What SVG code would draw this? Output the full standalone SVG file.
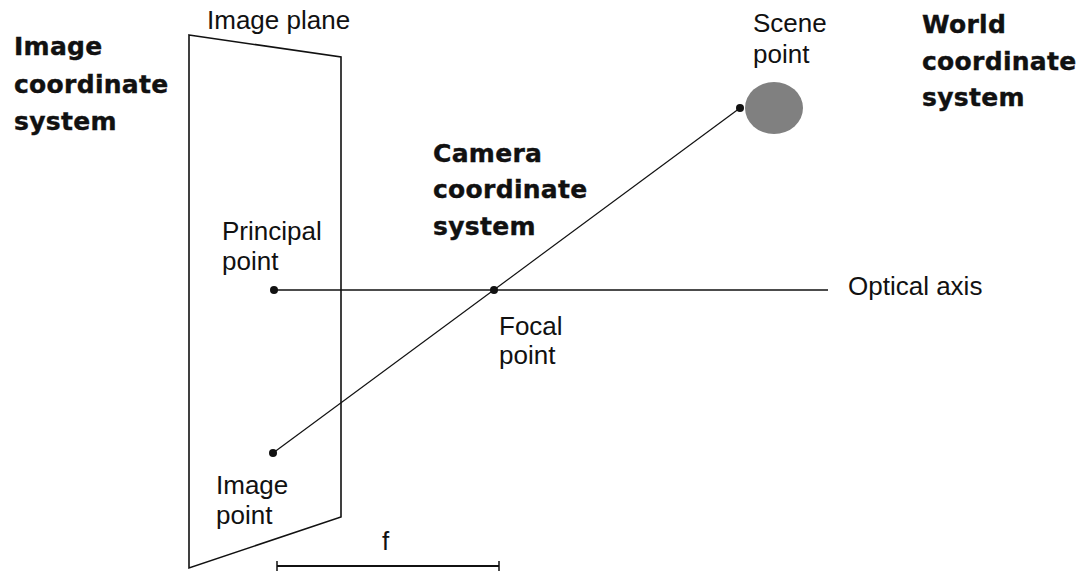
<svg xmlns="http://www.w3.org/2000/svg" width="1081" height="572" viewBox="0 0 1081 572">
<style>
.t{font-family:"Liberation Sans",Arial,sans-serif;font-size:26px;fill:#111}
.b{font-family:"DejaVu Sans",sans-serif;font-weight:bold;font-size:25px;letter-spacing:0.3px;fill:#111;stroke:#111;stroke-width:0.4px}
.ln{stroke:#111;fill:none}
.dot{fill:#111}
</style>
<rect width="1081" height="572" fill="#fff"/>
<g id="image-plane">
<polygon class="ln" stroke-width="1.6" points="189,35 341,57 341,517 189,568"/>
<text class="t" x="207" y="29">Image plane</text>
</g>
<g id="connectors">
<line class="ln" stroke-width="1.6" x1="274" y1="290" x2="828" y2="290"/>
<line class="ln" stroke-width="1.2" x1="273" y1="453" x2="740" y2="108"/>
<g id="f-dimension">
<line class="ln" stroke-width="2" x1="277" y1="566" x2="499" y2="566"/>
<line class="ln" stroke-width="1.5" x1="277" y1="561" x2="277" y2="571"/>
<line class="ln" stroke-width="1.5" x1="499" y1="561" x2="499" y2="571"/>
<text class="t" x="382" y="550">f</text>
</g>
</g>
<g id="image-cs">
<text class="b" x="14" y="55">Image</text>
<text class="b" x="14" y="93">coordinate</text>
<text class="b" x="14" y="130">system</text>
</g>
<g id="camera-cs">
<text class="b" x="433" y="162">Camera</text>
<text class="b" x="433" y="198">coordinate</text>
<text class="b" x="433" y="235">system</text>
</g>
<g id="world-cs">
<text class="b" x="922" y="33">World</text>
<text class="b" x="922" y="70">coordinate</text>
<text class="b" x="922" y="106">system</text>
</g>
<g id="scene-point">
<ellipse cx="774" cy="108" rx="29" ry="26" fill="#808080"/>
<circle class="dot" cx="740" cy="108" r="4"/>
<text class="t" x="753" y="32">Scene</text>
<text class="t" x="753" y="63">point</text>
</g>
<g id="principal-point">
<circle class="dot" cx="274" cy="290" r="4"/>
<text class="t" x="222" y="240">Principal</text>
<text class="t" x="222" y="270">point</text>
</g>
<g id="focal-point">
<circle class="dot" cx="494" cy="290" r="4"/>
<text class="t" x="499" y="335">Focal</text>
<text class="t" x="499" y="364">point</text>
</g>
<g id="image-point">
<circle class="dot" cx="273" cy="453" r="4"/>
<text class="t" x="216" y="494">Image</text>
<text class="t" x="216" y="524">point</text>
</g>
<g id="optical-axis">
<text class="t" x="848" y="295">Optical axis</text>
</g>
</svg>
